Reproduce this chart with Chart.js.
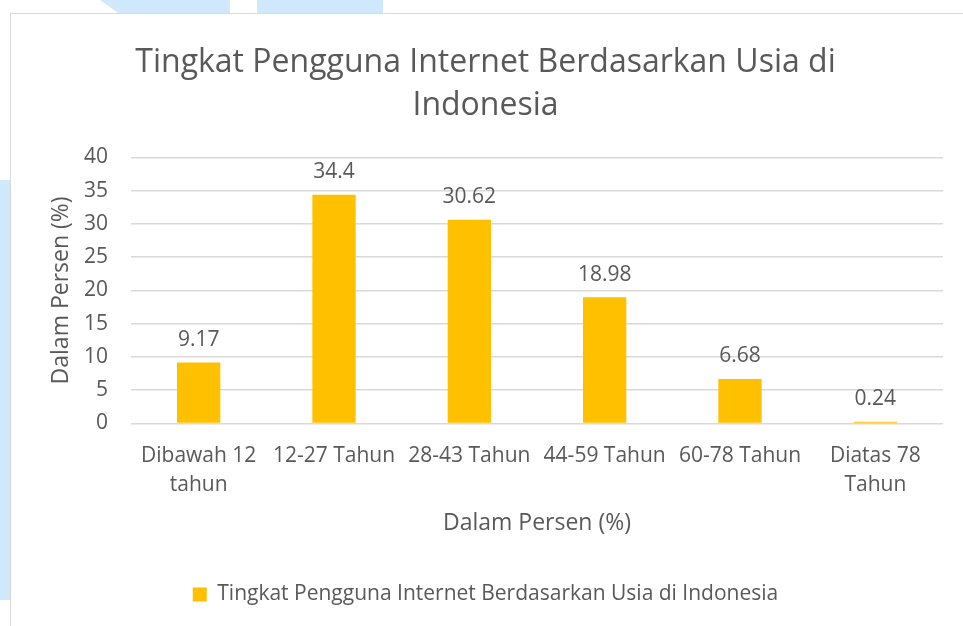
<!DOCTYPE html>
<html>
<head>
<meta charset="utf-8">
<script src="https://cdn.jsdelivr.net/npm/chart.js@4"></script>
<style>
  html, body { margin: 0; padding: 0; background: #fff; width: 963px; height: 626px; overflow: hidden; position: relative; }
  .wm { position: absolute; background: #cfe8fb; }
  #box { position: absolute; left: 10px; top: 13px; width: 953px; height: 613px; background: #fff; border-left: 1px solid #d9d9d9; border-top: 1px solid #d9d9d9; box-sizing: border-box; }
</style>
</head>
<body>
<div class="wm" style="left:100px;top:0;width:130px;height:14px;clip-path:polygon(0 0,100% 0,100% 100%,15% 100%)"></div>
<div class="wm" style="left:257px;top:0;width:126px;height:14px;clip-path:polygon(0 0,100% 0,100% 100%,0 100%)"></div>
<div class="wm" style="left:0;top:180px;width:11px;height:420px"></div>
<div id="box"><canvas id="chart" width="952" height="612"></canvas></div>
<script>
// values
const categories = [['Dibawah 12', 'tahun'], '12-27 Tahun', '28-43 Tahun', '44-59 Tahun', '60-78 Tahun', ['Diatas 78', 'Tahun']];
const usage = [9.17, 34.4, 30.62, 18.98, 6.68, 0.24];
const seriesName = 'Tingkat Pengguna Internet Berdasarkan Usia di Indonesia';
const titleLines = ['Tingkat Pengguna Internet Berdasarkan Usia di', 'Indonesia'];

const textColor = '#595959';
const font = "'Open Sans', sans-serif";

// simple value labels above bars
const valueLabels = {
  id: 'valueLabels',
  afterDatasetsDraw(chart) {
    const ctx = chart.ctx;
    ctx.save();
    ctx.fillStyle = textColor;
    ctx.font = `21px ${font}`;
    ctx.textAlign = 'center';
    ctx.textBaseline = 'bottom';
    chart.getDatasetMeta(0).data.forEach((bar, i) => {
      ctx.fillText(String(usage[i]), bar.x, bar.y - 12);
    });
    ctx.restore();
  }
};

new Chart(document.getElementById('chart'), {
  type: 'bar',
  data: {
    labels: categories,
    datasets: [{
      label: seriesName,
      data: usage,
      backgroundColor: '#ffc000',
      barPercentage: 0.32,
      categoryPercentage: 1
    }]
  },
  options: {
    responsive: false,
    animation: false,
    layout: { padding: { left: 17, right: 20, top: 17, bottom: 11 } },
    plugins: {
      title: {
        display: true,
        text: titleLines,
        color: textColor,
        font: { family: font, size: 32, weight: 'normal', lineHeight: 1.35 },
        padding: { top: 10, bottom: 30 }
      },
      legend: {
        position: 'bottom',
        labels: {
          color: textColor,
          font: { family: font, size: 21 },
          boxWidth: 14,
          boxHeight: 14,
          padding: 22
        }
      },
      tooltip: { enabled: false }
    },
    scales: {
      x: {
        grid: { display: false },
        border: { display: false },
        ticks: { color: textColor, font: { family: font, size: 21, lineHeight: 1.38 }, maxRotation: 0, autoSkip: false, padding: 10 },
        title: { display: true, text: 'Dalam Persen (%)', color: textColor, font: { family: font, size: 23 }, padding: { top: 0, bottom: 25 } }
      },
      y: {
        min: 0,
        max: 40,
        border: { display: false },
        grid: { color: '#d9d9d9', lineWidth: 1.5, drawTicks: false },
        ticks: { stepSize: 5, color: textColor, font: { family: font, size: 21 }, padding: 23 },
        title: { display: true, text: 'Dalam Persen (%)', color: textColor, font: { family: font, size: 23 }, padding: { top: 20, bottom: 0 } },
        afterFit(scale) { scale.width = 103; }
      }
    }
  },
  plugins: [valueLabels]
});
</script>
</body>
</html>
